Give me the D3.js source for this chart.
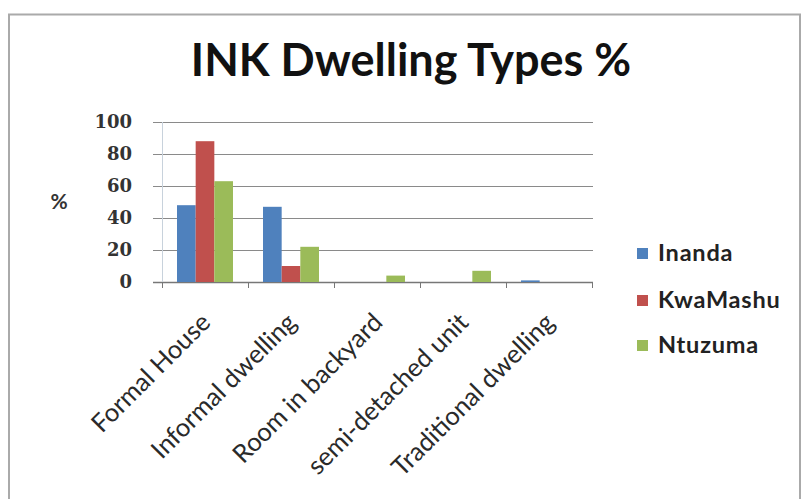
<!DOCTYPE html>
<html><head><meta charset="utf-8">
<script src="https://cdn.jsdelivr.net/npm/d3@7"></script>
<style>body{margin:0;background:#fff}svg{display:block}</style>
</head><body>
<script>
const categories = ["Formal House","Informal dwelling","Room in backyard","semi-detached unit","Traditional dwelling"];
const seriesNames = ["Inanda","KwaMashu","Ntuzuma"];
const inanda = [48, 47, 0, 0, 1];
const kwaMashu = [88, 10, 0, 0, 0];
const ntuzuma = [63, 22, 4, 7, 0];
const yTicks = [0, 20, 40, 60, 80, 100];
const colors = ["#4F81BD","#C0504D","#9BBB59"];
const values = [inanda, kwaMashu, ntuzuma];

const W = 803, H = 499;
const svg = d3.select("body").append("svg").attr("width", W).attr("height", H);
svg.append("rect").attr("x",0).attr("y",0).attr("width",W).attr("height",H).attr("fill","#fff");
// chart border
svg.append("rect").attr("x",9).attr("y",14.5).attr("width",W-9-3).attr("height",H+10)
  .attr("fill","none").attr("stroke","#aaa").attr("stroke-width",2);

const x0 = d3.scaleBand().domain(categories).range([162, 592]).paddingInner(0).paddingOuter(0);
const x1 = d3.scaleBand().domain(seriesNames).range([15, x0.bandwidth()-15]).padding(0);
const y = d3.scaleLinear().domain([0, 100]).range([282, 122]);

// gridlines
svg.append("g").selectAll("line").data(yTicks).join("line")
  .attr("x1", 153).attr("x2", 593)
  .attr("y1", d => Math.round(y(d)) + 0.5).attr("y2", d => Math.round(y(d)) + 0.5)
  .attr("stroke", d => d === 0 ? "#777" : "#8a8a8a").attr("stroke-width", d => d===0?1.5:1);

// y axis line
svg.append("line").attr("x1",162.5).attr("x2",162.5).attr("y1",y(100)).attr("y2",y(0))
  .attr("stroke","#c8d2dc").attr("stroke-width",1);

// bars
const groups = svg.append("g").selectAll("g").data(seriesNames).join("g")
  .attr("fill", (d,i) => colors[i]);
groups.selectAll("rect").data((s,i) => categories.map((c,j) => ({c, s, v: values[i][j]})))
  .join("rect")
  .attr("x", d => x0(d.c) + x1(d.s))
  .attr("width", x1.bandwidth())
  .attr("y", d => y(d.v))
  .attr("height", d => y(0) - y(d.v));

// x axis ticks
const bounds = categories.map(c => x0(c)).concat([x0.range()[1]]);
svg.append("g").selectAll("line").data(bounds).join("line")
  .attr("x1", d => Math.round(d)+0.5).attr("x2", d => Math.round(d)+0.5)
  .attr("y1", y(0)).attr("y2", y(0)+6).attr("stroke","#777");

// y tick labels
svg.append("g").selectAll("text").data(yTicks).join("text")
  .attr("x", 132).attr("y", d => y(d)).attr("dy","0.35em")
  .attr("text-anchor","end")
  .style("font-family","'DejaVu Serif'").style("font-weight","bold").style("font-size","18px")
  .attr("fill","#333").text(d => d);

// % axis title
svg.append("text").attr("x", 59).attr("y", 202).attr("dy","0.35em").attr("text-anchor","middle")
  .style("font-family","Lato").style("font-weight","bold").style("font-size","21px")
  .attr("fill","#333").text("%");

// category labels
svg.append("g").selectAll("text").data(categories).join("text")
  .attr("transform", d => `translate(${x0(d)+x0.bandwidth()/2+7},${y(0)+42}) rotate(-45)`)
  .attr("text-anchor","end")
  .style("font-family","Lato").style("font-size","25.5px").attr("fill","#2a2a2a")
  .text(d => d);

// title
svg.append("text").attr("x", 411).attr("y", 76).attr("text-anchor","middle")
  .style("font-family","Lato").style("font-weight","bold").style("font-size","45px")
  .attr("fill","#111").text("INK Dwelling Types %");

// legend
const leg = svg.append("g").selectAll("g").data(seriesNames).join("g")
  .attr("transform", (d,i) => `translate(637,${[253,300,345][i]})`);
leg.append("rect").attr("x",0).attr("y",-5).attr("width",11).attr("height",11).attr("fill",(d,i)=>colors[i]);
leg.append("text").attr("x",21).attr("y",0).attr("dy","0.35em")
  .style("font-family","Lato").style("font-weight","bold").style("font-size","23.5px")
  .style("letter-spacing","0.8px")
  .attr("fill","#222").text(d => d);
</script>
</body></html>
